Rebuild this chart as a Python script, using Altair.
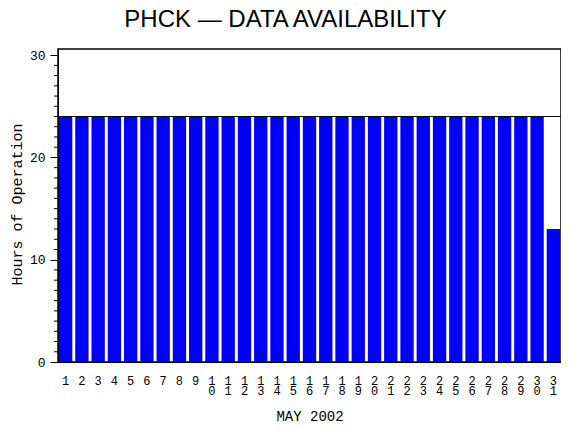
import altair as alt
import pandas as pd

days = [str(d) for d in range(1, 32)]
hours = [24] * 30 + [13]
max_hours = [24]
major_ticks = [0, 10, 20, 30]
minor_ticks = [v for v in range(0, 31) if v % 10 != 0]

df = pd.DataFrame({"day": days, "hours": hours})
ref = pd.DataFrame({"h": max_hours})
minor = pd.DataFrame({"v": minor_ticks})

mono = "Liberation Mono"
y_scale = alt.Scale(domain=[0, 30.6], nice=False)

x_enc = alt.X(
    "day:N",
    sort=days,
    scale=alt.Scale(paddingInner=0.18, paddingOuter=0.06),
    axis=alt.Axis(
        title="MAY 2002",
        labelAngle=0,
        ticks=False,
        domain=True,
        domainColor="black",
        labelFont=mono,
        labelFontSize=12,
        labelColor="black",
        labelBaseline="top",
        labelPadding=13,
        labelLineHeight=10,
        labelOverlap=False,
        labelExpr="length(datum.label) > 1 ? [slice(datum.label,0,1), slice(datum.label,1)] : datum.label",
        titleFont=mono,
        titleFontSize=14,
        titleFontWeight="normal",
        titleColor="black",
        titlePadding=13,
    ),
)

y_axis = alt.Axis(
    title="Hours of Operation",
    values=major_ticks,
    labelOverlap=False,
    tickSize=8,
    tickColor="black",
    domainColor="black",
    labelFont=mono,
    labelFontSize=13,
    labelColor="black",
    labelPadding=5,
    grid=False,
    titleFont=mono,
    titleFontSize=15,
    titleFontWeight="normal",
    titleColor="black",
    titleX=-42,
    titleY=155,
    titleAngle=270,
    titleAlign="center",
    titleBaseline="middle",
)

bars = alt.Chart(df).mark_bar(color="#0000FF").encode(
    x=x_enc,
    y=alt.Y("hours:Q", scale=y_scale, axis=y_axis),
)

rule = alt.Chart(ref).mark_rule(color="black", strokeWidth=1.2).encode(
    y=alt.Y("h:Q", scale=y_scale),
)

minor_rules = alt.Chart(minor).mark_rule(color="black", strokeWidth=1).encode(
    y=alt.Y("v:Q", scale=y_scale),
    x=alt.value(-4),
    x2=alt.value(0),
)

chart = (
    alt.layer(bars, rule, minor_rules)
    .properties(
        width=503,
        height=313,
        autosize=alt.AutoSizeParams(type="none"),
        padding={"left": 50, "top": 41, "right": 0, "bottom": 60},
        background="white",
        title=alt.Title(
            "PHCK — DATA AVAILABILITY",
            font="Liberation Sans",
            fontSize=24,
            fontWeight="normal",
            color="black",
            anchor="middle",
            dx=-24,
            dy=23,
            baseline="alphabetic",
            offset=21,
        ),
    )
    .configure_view(stroke="black", strokeWidth=1.5)
)

chart.save("out.html", embed_options={"renderer": "svg", "actions": False})
